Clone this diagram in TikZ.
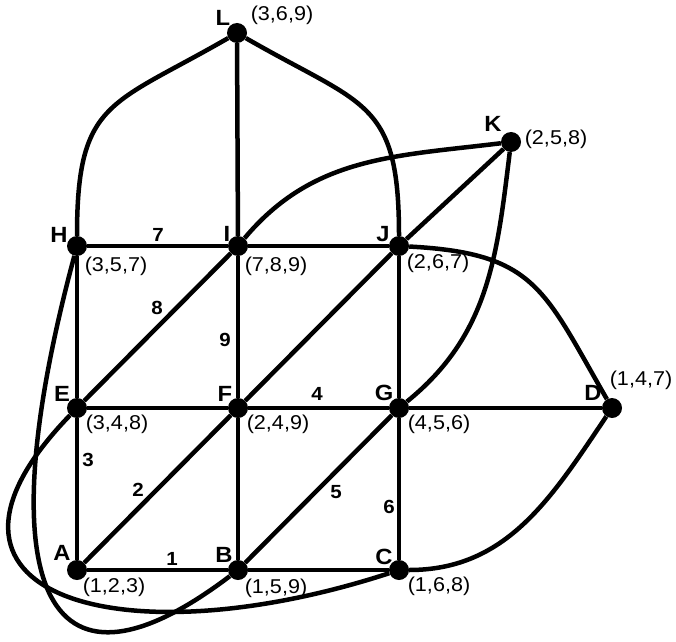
\documentclass[tikz,border=0pt]{standalone}
\usepackage{fontspec}
\setmainfont[FakeStretch=1.08]{Liberation Sans}
\usetikzlibrary{positioning}
\tikzset{
    vertex/.style={
        circle,fill=black,
        inner sep=0pt,minimum size=20pt
    },
    vertex name/.style={
        inner sep=0pt,
        font=\bfseries\fontsize{22}{22}\selectfont
    },
    vertex set/.style={
        inner sep=0pt,
        font=\fontsize{20}{20}\selectfont
    },
    edge number/.style={
        inner sep=0pt,
        font=\bfseries\fontsize{19}{19}\selectfont
    },
    link/.style={line width=4.5pt}
}

\begin{document}
\begin{tikzpicture}[x=1pt,y=1pt]
\useasboundingbox (0,0) rectangle (676,641);
\foreach \name/\x/\y in {L/237/608,K/511/499,H/77/395,I/238/395,J/399/395,E/77/233,F/238/233,G/399/233,D/612/233,A/77/71,B/238/71,C/399/71}
    \node[vertex] (\name) at (\x,\y) {};
% straight edges
\foreach \u/\v in {H/I,I/J,E/F,F/G,G/D,A/B,B/C,H/E,E/A,L/I,I/F,F/B,J/G,G/C,A/F,F/J,J/K,E/I,B/G}
    \draw[link] (\u) -- (\v);
% curved edges
\draw[link] (L) to[out=210,in=90,looseness=1.4] (H);
\draw[link] (L) to[out=-30,in=90,looseness=1.4] (J);
\draw[link] (I) to[out=50,in=187] (K);
\draw[link] (K) to[out=263,in=39] (G);
\draw[link] (J) to[out=-3,in=120,looseness=1.3] (D);
\draw[link] (D) to[out=236,in=0] (C);
\draw[link] (H) .. controls (-13,60) and (41,-78) .. (B);
\draw[link] (E) .. controls (-105,45) and (120,-20) .. (C);

\foreach \name/\x/\y in {L/223/623,K/493/517,H/59/406,I/227/407,J/383/407,E/62/247,F/225/247,G/384/248,D/593/248,A/62/88,B/224/86,C/384/84}
    \node[vertex name] (\name-name) at (\x,\y) {\name};
\foreach \name/\x/\y/\set in {L/282/626/{3,6,9},K/556/502/{2,5,8},H/116/375/{3,5,7},I/276/375/{7,8,9},J/438/378/{2,6,7},E/117/217/{3,4,8},F/278/217/{2,4,9},G/439/217/{4,5,6},D/641/261/{1,4,7},A/114/54/{1,2,3},B/276/53/{1,5,9},C/439/55/{1,6,8}}
    \node[vertex set] (\name-set) at (\x,\y) {(\set)};
\foreach \n/\x/\y in {1/172/82,2/138/151,3/88/181,4/317/247,5/336/149,6/389/134,7/158/406,8/157/333,9/225/301}
    \node[edge number] (num\n) at (\x,\y) {\n};
\end{tikzpicture}
\end{document}
